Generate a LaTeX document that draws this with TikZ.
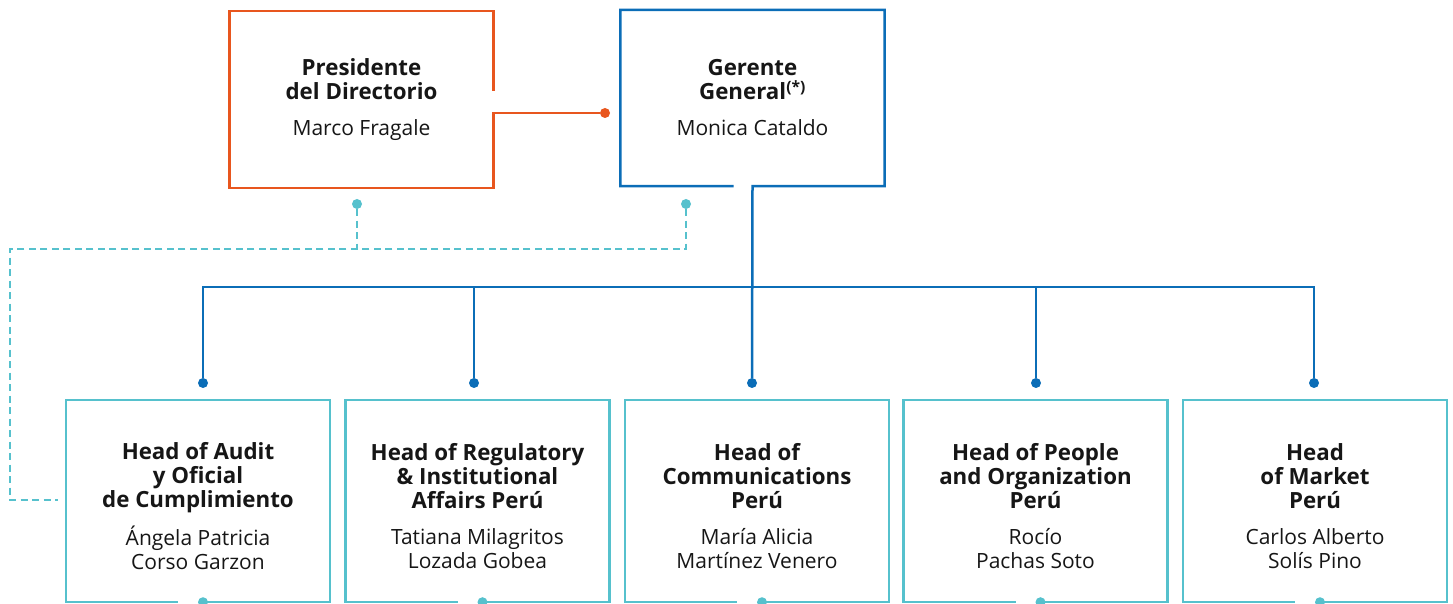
\documentclass[tikz,border=0pt]{standalone}
\usepackage{fontspec}
\setmainfont{Open Sans}
\usepackage{xcolor}
\definecolor{presorange}{HTML}{E8561E}
\definecolor{gerblue}{HTML}{0B6DB7}
\definecolor{headcyan}{HTML}{56C1CD}
\definecolor{textdark}{HTML}{161616}
\newcommand{\cargo}[2]{{\fontsize{22.3}{24}\bfseries\spaceskip=\fontdimen2\font\relax #1\par}\vspace{12.5pt}{\fontsize{21}{23.5}\selectfont\spaceskip=\fontdimen2\font\relax #2\par}}

\begin{document}
\begin{tikzpicture}[x=1pt, y=1pt,
    box/.style={minimum width=264pt, minimum height=177pt, inner sep=0pt, align=center,
      text width=258pt, text=textdark, font=\fontsize{21}{24}\selectfont},
    headbox/.style={box, minimum height=202pt, execute at begin node={\rule{0pt}{27pt}}},
    orangeline/.style={presorange, line width=2.5pt},
    blueline/.style={gerblue, line width=2.5pt},
    cyanline/.style={headcyan, line width=2.5pt},
    cyandash/.style={headcyan, line width=2.5pt, dash pattern=on 7pt off 4.5pt},
    dot/.style={circle, fill, inner sep=0pt, minimum size=10pt}]
            \useasboundingbox (0, 0) rectangle (1453, 604);
            \node[box] (pres) at (361.5, 504.5) {\cargo{Presidente\\del Directorio}{Marco Fragale}};
            \node[box, minimum height=176pt] (ger) at (752.5, 506) {\cargo{Gerente\\General\textsuperscript{(*)}}{Monica Cataldo}};
            \node[dot, presorange] (link) at (605, 491) {};
            \draw[orangeline] ([yshift=8.5pt]pres.east) -- (pres.north east) -- (pres.north west) -- (pres.south west) -- (pres.south east) -- ([yshift=-13.5pt]pres.east) -- (link);

            \node[headbox] (hA) at (198, 103) {\cargo{Head of Audit\\y Oficial\\de Cumplimiento}{Ángela Patricia\\Corso Garzon}};
            \node[headbox] (hB) at (477.5, 103) {\cargo{Head of Regulatory\\\& Institutional\\Affairs Perú}{Tatiana Milagritos\\Lozada Gobea}};
            \node[headbox] (hC) at (757, 103) {\cargo{Head of\\Communications\\Perú}{María Alicia\\Martínez Venero}};
            \node[headbox] (hD) at (1035.5, 103) {\cargo{Head of People\\and Organization\\Perú}{Rocío\\Pachas Soto}};
            \node[headbox] (hE) at (1315, 103) {\cargo{Head\\of Market\\Perú}{Carlos Alberto\\Solís Pino}};
            \foreach \h in {hA, hB, hC, hD, hE} {
              \draw[cyanline] ([xshift=5pt]\h.south) -- (\h.south east) -- (\h.north east) -- (\h.north west) -- (\h.south west) -- ([xshift=-20pt]\h.south);
              \node[dot, headcyan] (\h-out) at ([xshift=5pt]\h.south) {};
            }

            \node[dot, gerblue] (inA) at (203, 221) {};
            \node[dot, gerblue] (inB) at (474, 221) {};
            \node[dot, gerblue] (inC) at (752, 221) {};
            \node[dot, gerblue] (inD) at (1036, 221) {};
            \node[dot, gerblue] (inE) at (1314, 221) {};
            \draw[blueline] ([xshift=-19pt]ger.south) -- (ger.south west) -- (ger.north west) -- (ger.north east) -- (ger.south east) -- (ger.south) -- (inC);
            \draw[blueline] (inA) -- (inA |- 0, 317) -- (inE |- 0, 317) -- (inE);
            \draw[blueline] (inB) -- (inB |- 0, 317);
            \draw[blueline] (inD) -- (inD |- 0, 317);

            \node[dot, headcyan] (fromP) at (357, 400) {};
            \node[dot, headcyan] (fromG) at (686, 400) {};
            \coordinate (auditin) at (58, 104);
            \draw[cyandash] (fromP) -- (fromP |- 0, 355);
            \draw[cyandash] (fromG) |- (10, 355) |- (auditin);
        \end{tikzpicture}
\end{document}
